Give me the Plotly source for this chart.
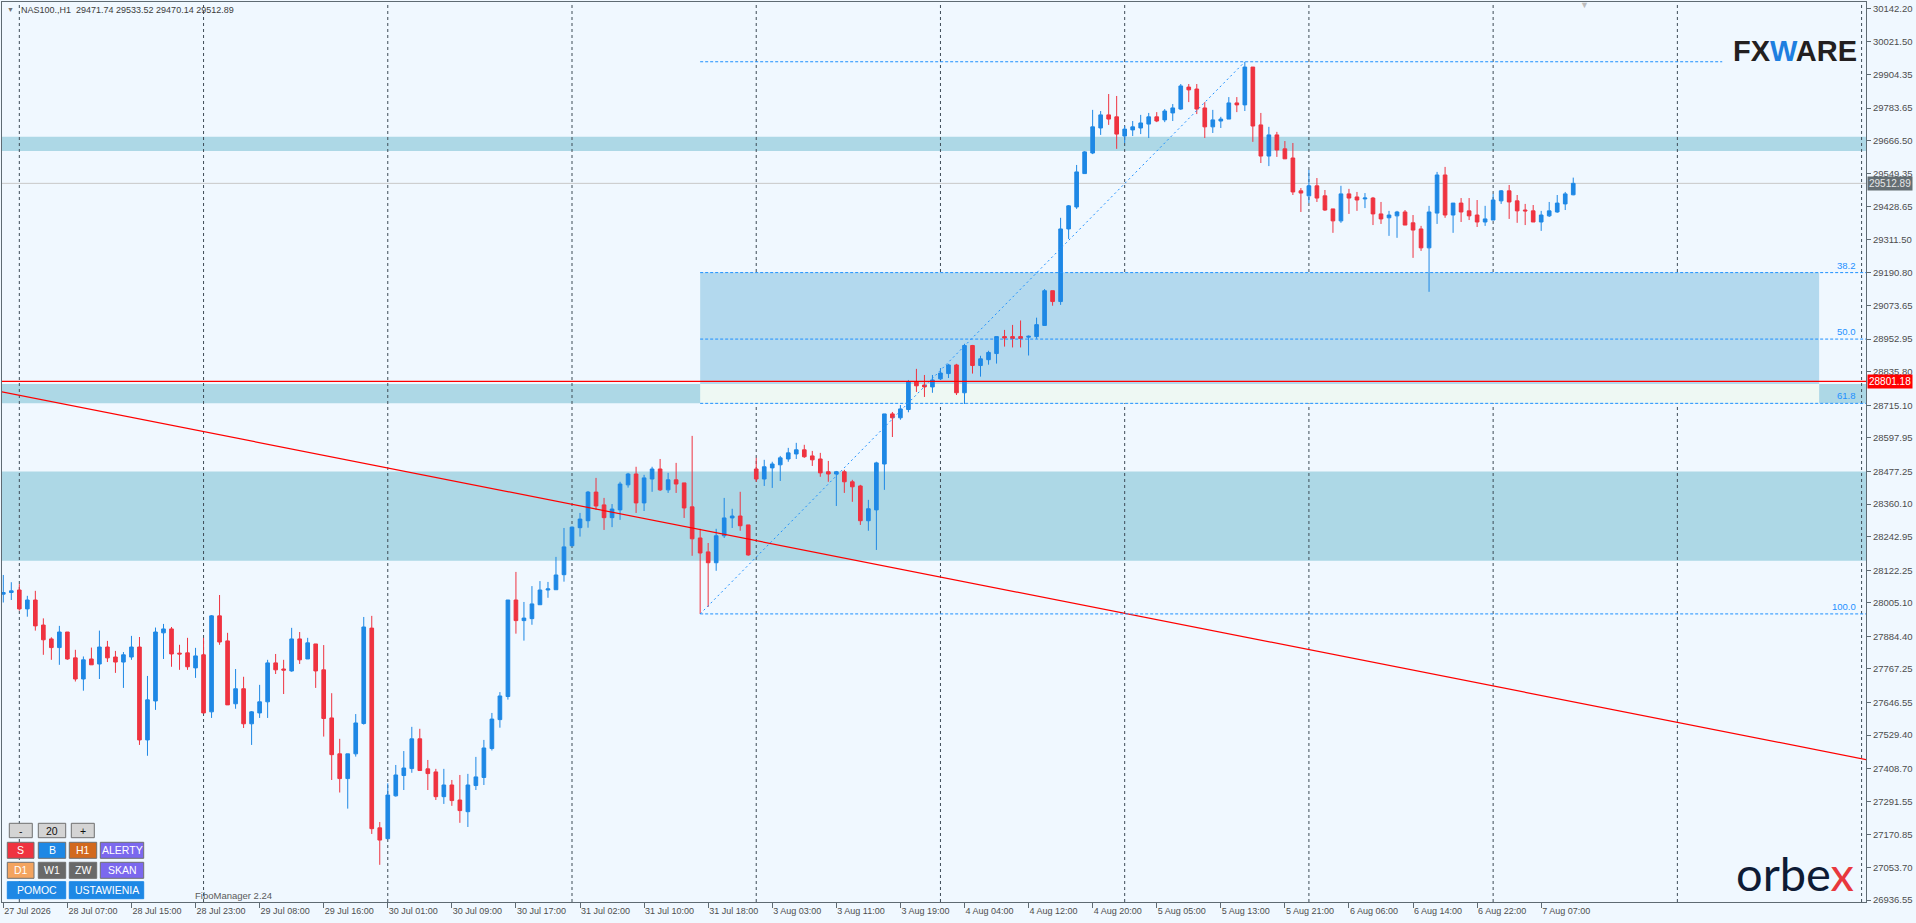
import plotly.graph_objects as go

# NAS100 H1 candles (bar index 0 = first visible bar)
opens = [28036, 28042, 28051, 27983, 28015, 27925, 27875, 27844, 27900, 27807,
         27731, 27803, 27785, 27846, 27810, 27792, 27810, 27846, 27512, 27652,
         27897, 27911, 27824, 27825, 27771, 27818, 27613, 27958, 27868, 27642,
         27696, 27570, 27609, 27649, 27789, 27767, 27760, 27875, 27803, 27857,
         27764, 27591, 27462, 27373, 27462, 27571, 27914, 27196, 27157, 27311,
         27384, 27409, 27516, 27408, 27397, 27308, 27350, 27296, 27254, 27348,
         27377, 27481, 27585, 27668, 28015, 27941, 27948, 27998, 28051, 28052,
         28106, 28210, 28275, 28300, 28403, 28357, 28311, 28339, 28429, 28468,
         28364, 28450, 28486, 28411, 28447, 28436, 28350, 28238, 28188, 28149,
         28246, 28310, 28317, 28285, 28486, 28450, 28490, 28501, 28522, 28540,
         28555, 28533, 28522, 28476, 28468, 28476, 28440, 28425, 28300, 28339,
         28504, 28684, 28670, 28700, 28799, 28788, 28781, 28810, 28829, 28860,
         28760, 28930, 28858, 28879, 28901, 28962, 28962, 28962, 28960, 28962,
         29002, 29127, 29088, 29349, 29428, 29548, 29622, 29712, 29759, 29752,
         29683, 29705, 29712, 29726, 29752, 29741, 29766, 29780, 29859, 29852,
         29784, 29716, 29737, 29744, 29802, 29795, 29931, 29723, 29611, 29687,
         29637, 29604, 29486, 29468, 29504, 29468, 29421, 29378, 29475, 29464,
         29457, 29460, 29403, 29389, 29396, 29410, 29371, 29349, 29281, 29406,
         29543, 29399, 29442, 29414, 29399, 29374, 29381, 29450, 29486, 29450,
         29417, 29414, 29374, 29396, 29410, 29439, 29471.74]
highs = [28105, 28079, 28072, 28030, 28048, 27949, 27881, 27922, 27900, 27836,
         27812, 27844, 27905, 27868, 27832, 27828, 27886, 27882, 27742, 27916,
         27929, 27918, 27854, 27879, 27843, 27879, 27961, 28033, 27897, 27767,
         27739, 27616, 27710, 27800, 27821, 27800, 27915, 27900, 27879, 27857,
         27853, 27680, 27516, 27462, 27605, 27954, 27958, 27217, 27356, 27422,
         27472, 27559, 27552, 27440, 27408, 27408, 27368, 27386, 27390, 27451,
         27512, 27609, 27684, 28015, 28116, 28008, 28065, 28083, 28080, 28170,
         28274, 28279, 28328, 28407, 28454, 28382, 28360, 28440, 28472, 28494,
         28465, 28494, 28522, 28472, 28508, 28436, 28605, 28271, 28220, 28271,
         28382, 28343, 28404, 28285, 28526, 28519, 28512, 28533, 28562, 28580,
         28573, 28551, 28544, 28515, 28479, 28483, 28447, 28429, 28375, 28512,
         28684, 28691, 28716, 28806, 28846, 28824, 28824, 28849, 28864, 28864,
         28936, 28932, 28893, 28911, 28962, 28986, 29004, 29020, 28966, 29030,
         29133, 29127, 29389, 29435, 29579, 29629, 29777, 29773, 29834, 29827,
         29719, 29737, 29759, 29766, 29769, 29780, 29798, 29870, 29870, 29870,
         29805, 29777, 29752, 29823, 29823, 29949, 29931, 29766, 29716, 29698,
         29665, 29658, 29496, 29561, 29532, 29489, 29421, 29504, 29493, 29482,
         29478, 29464, 29446, 29414, 29414, 29417, 29399, 29360, 29432, 29554,
         29572, 29442, 29460, 29460, 29453, 29432, 29475, 29489, 29507, 29471,
         29439, 29435, 29414, 29446, 29471, 29482, 29533.52]
lows = [28006, 28015, 27977, 27955, 27905, 27818, 27800, 27782, 27800, 27722,
        27689, 27782, 27731, 27792, 27753, 27699, 27800, 27494, 27455, 27620,
        27803, 27775, 27764, 27764, 27735, 27608, 27591, 27854, 27638, 27624,
        27555, 27494, 27591, 27591, 27749, 27677, 27757, 27785, 27803, 27699,
        27524, 27368, 27323, 27265, 27452, 27567, 27174, 27063, 27155, 27308,
        27332, 27394, 27402, 27332, 27296, 27282, 27275, 27214, 27199, 27332,
        27350, 27474, 27556, 27657, 27894, 27869, 27926, 27998, 28023, 28052,
        28081, 28209, 28243, 28275, 28339, 28267, 28277, 28303, 28419, 28328,
        28335, 28404, 28407, 28400, 28400, 28310, 28174, 27965, 27990, 28120,
        28238, 28274, 28264, 28174, 28440, 28425, 28418, 28443, 28512, 28522,
        28526, 28497, 28458, 28440, 28353, 28400, 28368, 28285, 28264, 28195,
        28411, 28601, 28663, 28690, 28763, 28745, 28760, 28806, 28813, 28752,
        28720, 28829, 28818, 28861, 28865, 28926, 28923, 28923, 28894, 28954,
        29002, 29073, 29076, 29313, 29421, 29547, 29618, 29687, 29723, 29637,
        29658, 29683, 29690, 29676, 29733, 29733, 29737, 29777, 29805, 29762,
        29676, 29694, 29712, 29744, 29769, 29773, 29662, 29586, 29575, 29608,
        29601, 29471, 29410, 29442, 29446, 29414, 29335, 29371, 29403, 29414,
        29424, 29363, 29367, 29324, 29317, 29363, 29245, 29270, 29123, 29367,
        29389, 29335, 29374, 29381, 29356, 29360, 29381, 29439, 29385, 29371,
        29363, 29374, 29342, 29392, 29407, 29417, 29470.14]
closes = [28042, 28048, 27983, 28015, 27922, 27872, 27844, 27900, 27803, 27731,
          27800, 27782, 27846, 27807, 27792, 27818, 27846, 27512, 27656, 27900,
          27911, 27821, 27821, 27775, 27814, 27609, 27958, 27864, 27638, 27696,
          27570, 27613, 27649, 27789, 27764, 27763, 27875, 27800, 27861, 27760,
          27589, 27459, 27373, 27462, 27573, 27918, 27193, 27152, 27314, 27386,
          27411, 27516, 27402, 27391, 27308, 27350, 27294, 27258, 27350, 27379,
          27483, 27587, 27670, 28015, 27941, 27950, 28001, 28051, 28055, 28105,
          28206, 28277, 28306, 28403, 28353, 28311, 28342, 28432, 28468, 28364,
          28454, 28486, 28411, 28447, 28432, 28346, 28235, 28184, 28149, 28246,
          28310, 28317, 28282, 28177, 28450, 28494, 28504, 28526, 28544, 28555,
          28530, 28519, 28472, 28468, 28476, 28440, 28422, 28300, 28343, 28508,
          28684, 28670, 28702, 28799, 28785, 28781, 28806, 28831, 28860, 28760,
          28930, 28858, 28882, 28905, 28962, 28957, 28955, 28955, 28963, 29005,
          29127, 29088, 29349, 29432, 29554, 29626, 29716, 29759, 29744, 29690,
          29708, 29716, 29730, 29752, 29737, 29773, 29784, 29863, 29849, 29780,
          29716, 29741, 29744, 29802, 29795, 29931, 29719, 29611, 29687, 29633,
          29601, 29482, 29478, 29504, 29460, 29417, 29378, 29475, 29460, 29453,
          29460, 29403, 29385, 29399, 29410, 29363, 29345, 29281, 29410, 29543,
          29399, 29442, 29410, 29396, 29374, 29385, 29453, 29486, 29446, 29414,
          29414, 29374, 29399, 29414, 29442, 29475, 29512.89]

# time axis labels, one every 8 bars
time_labels = ["27 Jul 2026", "28 Jul 07:00", "28 Jul 15:00", "28 Jul 23:00", "29 Jul 08:00",
               "29 Jul 16:00", "30 Jul 01:00", "30 Jul 09:00", "30 Jul 17:00", "31 Jul 02:00",
               "31 Jul 10:00", "31 Jul 18:00", "3 Aug 03:00", "3 Aug 11:00", "3 Aug 19:00",
               "4 Aug 04:00", "4 Aug 12:00", "4 Aug 20:00", "5 Aug 05:00", "5 Aug 13:00",
               "5 Aug 21:00", "6 Aug 06:00", "6 Aug 14:00", "6 Aug 22:00", "7 Aug 07:00"]
label_step = 8

price_ticks = [30142.20, 30021.50, 29904.35, 29783.65, 29666.50, 29549.35, 29428.65,
               29311.50, 29190.80, 29073.65, 28952.95, 28835.80, 28715.10, 28597.95,
               28477.25, 28360.10, 28242.95, 28122.25, 28005.10, 27884.40, 27767.25,
               27646.55, 27529.40, 27408.70, 27291.55, 27170.85, 27053.70, 26936.55]

# support / resistance zones (price bottom, price top)
zones = [(29629, 29680), (28156, 28477), (28722, 28792)]

# fibonacci retracement (from bar 87 low to bar 155 high)
fib_bars = [87, 155]
fib_prices = [27965, 29950]
fib_levels = [("38.2", 29192), ("50.0", 28953), ("61.8", 28722), ("100.0", 27965)]
fib_box_end = 226.7

# red trend line and red horizontal level
trend_bars = [-1, 233]
trend_prices = [28768, 27439]
red_level = 28801.18

BLUE = "#1E88E5"
RED = "#EF3340"
FIB = "#1E90FF"
BG = "#F0F8FF"
TXT = "#4D4D4D"
AX = "#5F6B73"
FONT = "Liberation Sans, Arial, sans-serif"

W, H = 1916, 923
L, R, T, B = 2, 50, 2, 21
PW, PH = W - L - R, H - T - B


def fx(px):
    return (px - L) / PW


def fy(py):
    return 1 - (py - T) / PH


def note(x, y, text, size, color, xa="center", ya="middle", family=FONT, **kw):
    return dict(xref="paper", yref="paper", x=x, y=y, text=text, showarrow=False,
                xanchor=xa, yanchor=ya, font=dict(family=family, size=size, color=color), **kw)


n = len(closes)
bars = list(range(n))

fig = go.Figure()

fig.add_trace(go.Candlestick(
    x=bars, open=opens, high=highs, low=lows, close=closes,
    increasing=dict(line=dict(color=BLUE, width=1), fillcolor=BLUE),
    decreasing=dict(line=dict(color=RED, width=1), fillcolor=RED),
    whiskerwidth=0, hoverinfo="skip", showlegend=False,
))

fig.add_trace(go.Scatter(x=trend_bars, y=trend_prices, mode="lines",
                         line=dict(color="#FF0000", width=1.2),
                         hoverinfo="skip", showlegend=False))
fig.add_trace(go.Scatter(x=fib_bars, y=fib_prices, mode="lines",
                         line=dict(color=FIB, width=1, dash="2px,3px"),
                         hoverinfo="skip", showlegend=False))

shapes = []
for lo, hi in zones:
    shapes.append(dict(type="rect", xref="paper", yref="y", x0=0, x1=1, y0=lo, y1=hi,
                       fillcolor="#ADD8E6", line_width=0, layer="below"))
# fibonacci box (blue part and the overlap with the lower zone)
shapes.append(dict(type="rect", xref="x", yref="y", x0=fib_bars[0], x1=fib_box_end,
                   y0=zones[2][1], y1=fib_levels[0][1],
                   fillcolor="#B3D9EE", line_width=0, layer="below"))
shapes.append(dict(type="rect", xref="x", yref="y", x0=fib_bars[0], x1=fib_box_end,
                   y0=fib_levels[2][1], y1=zones[2][1],
                   fillcolor="#EEF8F3", line_width=0, layer="below"))
# vertical grid
for gb in range(2, 240, 23):
    shapes.append(dict(type="line", xref="x", yref="paper", x0=gb, x1=gb, y0=0, y1=1,
                       line=dict(color="#3E4C57", width=1, dash="3px,3px"), layer="below"))
# fib level lines
shapes.append(dict(type="line", xref="x", yref="y", x0=fib_bars[0], x1=214.6,
                   y0=fib_prices[1], y1=fib_prices[1],
                   line=dict(color=FIB, width=1, dash="3px,2px")))
for name, lv in fib_levels:
    shapes.append(dict(type="line", xref="x", yref="y", x0=fib_bars[0], x1=240,
                       y0=lv, y1=lv, line=dict(color=FIB, width=1, dash="3px,2px")))
# last price and red level
shapes.append(dict(type="line", xref="paper", yref="y", x0=0, x1=1,
                   y0=closes[-1], y1=closes[-1], line=dict(color="#C8C8C8", width=1),
                   layer="below"))
shapes.append(dict(type="line", xref="paper", yref="y", x0=0, x1=1,
                   y0=red_level, y1=red_level, line=dict(color="#FF0000", width=1.2)))

annotations = []
hdr = "NAS100.,H1\u00a0\u00a0" + " ".join(f"{v:.2f}" for v in
                                          (opens[-1], highs[-1], lows[-1], closes[-1]))
annotations.append(note(fx(19), fy(10), hdr, 9, "#3C3C3C", xa="left"))
annotations.append(note(fx(10), fy(10), "▼", 7, "#707070"))
annotations.append(note(fx(1584), fy(5), "▼", 9, "#BDBDBD"))

for name, lv in fib_levels:
    annotations.append(dict(xref="paper", yref="y", x=fx(1858), y=lv, text=name,
                            showarrow=False, xanchor="right", yanchor="bottom",
                            font=dict(family=FONT, size=9.5, color=FIB)))

annotations.append(dict(xref="paper", yref="y", x=1, y=red_level, text=f"{red_level:.2f}",
                        showarrow=False, xanchor="left", yanchor="middle", xshift=1,
                        bgcolor="#FF0000", borderpad=1,
                        font=dict(family=FONT, size=10, color="white")))
annotations.append(dict(xref="paper", yref="y", x=1, y=closes[-1], text=f"{closes[-1]:.2f}",
                        showarrow=False, xanchor="left", yanchor="middle", xshift=1,
                        bgcolor="#646E73", borderpad=1,
                        font=dict(family=FONT, size=10, color="#E6E6E6")))

# logos
annotations.append(note(fx(1795), fy(51), "<b>FX<span style='color:#1E7FE0'>W</span>ARE</b>",
                        29, "#231F20"))
annotations.append(note(fx(1795), fy(873), "orbe<span style='color:#E8383D'>x</span>",
                        47, "#0E1B35", family="Lato"))
annotations.append(note(fx(193), fy(895), "FiboManager 2.24", 9.5, "#5A5A5A", xa="left"))

# control panel buttons: label, x0, x1, y0, y1 (pixels), fill, border, text colour
buttons = [
    ("-", 9.3, 32.3, 823.3, 837.7, "#D4D4D4", "#707070", "#111111"),
    ("20", 38.3, 65.7, 823.3, 837.7, "#D4D4D4", "#707070", "#111111"),
    ("+", 71.3, 94.3, 823.3, 837.7, "#D4D4D4", "#707070", "#111111"),
    ("S", 7.3, 34.0, 842.3, 858.3, RED, "#707070", "white"),
    ("B", 38.3, 65.7, 842.3, 858.3, BLUE, "#707070", "white"),
    ("H1", 69.3, 96.7, 842.3, 858.3, "#D2691E", "#707070", "white"),
    ("ALERTY", 100.3, 143.7, 842.3, 858.3, "#7B68EE", "#707070", "white"),
    ("D1", 7.3, 34.0, 862.3, 878.3, "#F4A460", "#707070", "white"),
    ("W1", 38.3, 65.7, 862.3, 878.3, "#696969", "#707070", "white"),
    ("ZW", 69.3, 96.7, 862.3, 878.3, "#696969", "#707070", "white"),
    ("SKAN", 100.3, 143.7, 862.3, 878.3, "#7B68EE", "#707070", "white"),
    ("POMOC", 7.3, 65.7, 881.7, 898.7, BLUE, BLUE, "white"),
    ("USTAWIENIA", 69.3, 143.7, 881.7, 898.7, BLUE, BLUE, "white"),
]
for lab, x0, x1, y0, y1, fill, edge, tc in buttons:
    shapes.append(dict(type="rect", xref="paper", yref="paper", x0=fx(x0), x1=fx(x1),
                       y0=fy(y1), y1=fy(y0), fillcolor=fill, line=dict(color=edge, width=1)))
    annotations.append(note(fx((x0 + x1) / 2), fy((y0 + y1) / 2), lab, 10.5, tc))

fig.update_layout(
    width=W, height=H,
    margin=dict(l=L, r=R, t=T, b=B),
    paper_bgcolor=BG, plot_bgcolor=BG,
    showlegend=False, hovermode=False,
    boxgap=0.35,
    shapes=shapes, annotations=annotations,
    xaxis=dict(
        range=[-0.162, 232.55], rangeslider=dict(visible=False),
        tickvals=[i * label_step for i in range(len(time_labels))], ticktext=time_labels,
        ticks="outside", ticklen=5, tickcolor=AX, ticklabelposition="outside right",
        showgrid=False, zeroline=False, showline=True, linecolor=AX, mirror=True,
        tickfont=dict(family=FONT, size=9, color=TXT), automargin=False, fixedrange=True,
    ),
    yaxis=dict(
        range=[26929.35, 30164.85], side="right",
        tickvals=price_ticks, ticktext=[f"{p:.2f}" for p in price_ticks],
        ticks="outside", ticklen=4, tickcolor=AX,
        showgrid=False, zeroline=False, showline=True, linecolor=AX, mirror=True,
        tickfont=dict(family=FONT, size=9.5, color=TXT), automargin=False, fixedrange=True,
    ),
)

fig.write_html("out.html", config={"displayModeBar": False},
               post_script="document.body.style.margin='0';"
                           "document.body.style.overflow='hidden';"
                           "document.body.style.background='#F0F8FF';")
